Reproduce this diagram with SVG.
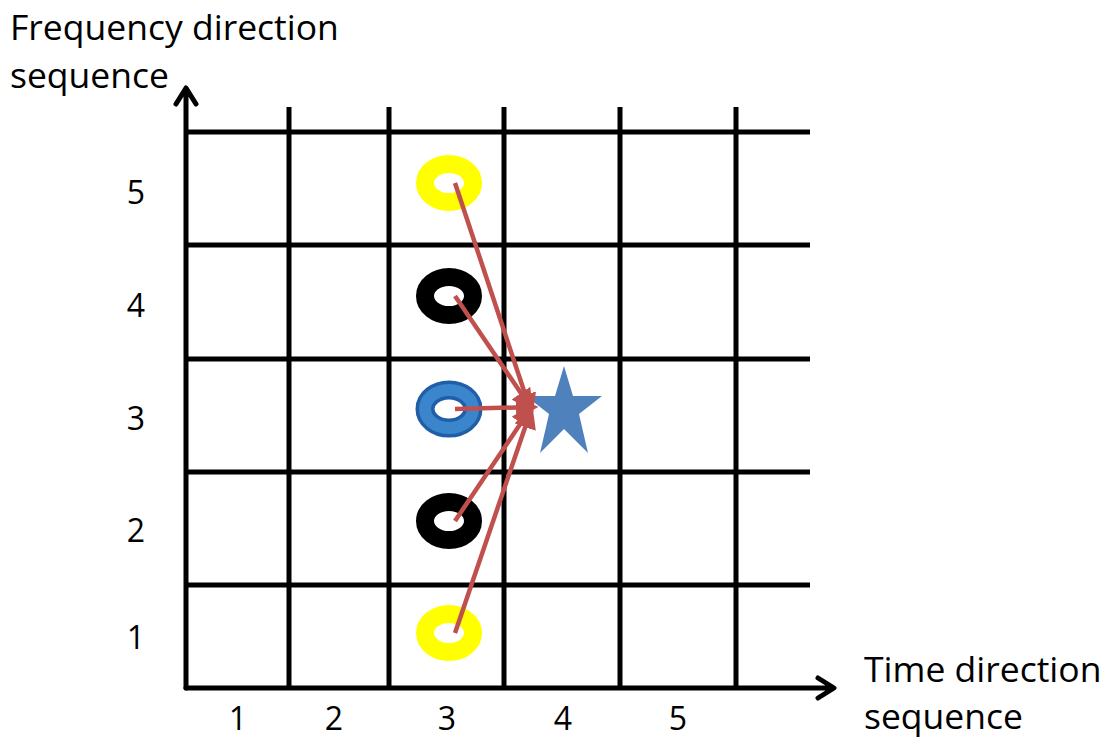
<svg xmlns="http://www.w3.org/2000/svg" width="1119" height="742" viewBox="0 0 1119 742">
<style>
.grid{stroke:#000;stroke-width:5;fill:none}
.axis{stroke:#000;stroke-width:5;fill:none;stroke-linecap:round;stroke-linejoin:round}
.lbl{font-family:"Open Sans","Liberation Sans",sans-serif;font-size:35.5px;fill:#000}
.num{font-family:"Open Sans","Liberation Sans",sans-serif;font-size:32px;fill:#000;text-anchor:middle}
.arr{stroke:#C0504D;stroke-width:4.5;fill:none;marker-end:url(#ah)}
</style>
<defs>
<marker id="ah" viewBox="0 0 10 10" refX="8" refY="5" markerWidth="5" markerHeight="5" orient="auto" markerUnits="strokeWidth">
<path d="M0,0 L10,5 L0,10 z" fill="#C0504D"/>
</marker>
</defs>
<rect width="1119" height="742" fill="#fff"/>
<g id="grid">
<line class="grid" x1="186" y1="132" x2="810" y2="132"/>
<line class="grid" x1="186" y1="245" x2="810" y2="245"/>
<line class="grid" x1="186" y1="359" x2="810" y2="359"/>
<line class="grid" x1="186" y1="472" x2="810" y2="472"/>
<line class="grid" x1="186" y1="585" x2="810" y2="585"/>
<line class="grid" x1="289" y1="107" x2="289" y2="688"/>
<line class="grid" x1="389" y1="107" x2="389" y2="688"/>
<line class="grid" x1="504" y1="107" x2="504" y2="688"/>
<line class="grid" x1="620" y1="107" x2="620" y2="688"/>
<line class="grid" x1="736" y1="107" x2="736" y2="688"/>
</g>
<g id="axes">
<path class="axis" d="M186,688 L186,90 M176,104 L186,88 L196,104"/>
<path class="axis" d="M186,688 L832,688 M818,678 L834,688 L818,698"/>
</g>
<g id="labels">
<text class="lbl" x="10" y="40">Frequency direction</text>
<text class="lbl" x="10" y="88">sequence</text>
<text class="lbl" x="864" y="682">Time direction</text>
<text class="lbl" x="864" y="729">sequence</text>
<text class="num" x="136" y="204">5</text>
<text class="num" x="136" y="317">4</text>
<text class="num" x="136" y="430">3</text>
<text class="num" x="136" y="542">2</text>
<text class="num" x="136" y="649">1</text>
<text class="num" x="238" y="730">1</text>
<text class="num" x="334" y="730">2</text>
<text class="num" x="447" y="730">3</text>
<text class="num" x="563" y="730">4</text>
<text class="num" x="678" y="730">5</text>
</g>
<g id="ring-5"><ellipse cx="449" cy="183" rx="24" ry="19" fill="none" stroke="#FFFF00" stroke-width="18"/></g>
<g id="ring-4"><ellipse cx="449" cy="296" rx="24" ry="19" fill="none" stroke="#000" stroke-width="18"/></g>
<g id="ring-3"><ellipse cx="449" cy="409" rx="24" ry="19" fill="none" stroke="#1F5FA8" stroke-width="19"/><ellipse cx="449" cy="409" rx="24" ry="19" fill="none" stroke="#3A85CC" stroke-width="12"/></g>
<g id="ring-2"><ellipse cx="449" cy="521" rx="24" ry="19" fill="none" stroke="#000" stroke-width="18"/></g>
<g id="ring-1"><ellipse cx="449" cy="633" rx="24" ry="19" fill="none" stroke="#FFFF00" stroke-width="18"/></g>
<g id="star"><polygon fill="#4F81BD" points="564,366 573,396 602,396 579,414 588,453 564,429 540,453 549,414 526,396 555,396"/></g>
<g id="connectors">
<line class="arr" x1="455" y1="183" x2="531" y2="412"/>
<line class="arr" x1="455" y1="296" x2="531" y2="408"/>
<line class="arr" x1="455" y1="409" x2="534" y2="407"/>
<line class="arr" x1="455" y1="521" x2="531" y2="408"/>
<line class="arr" x1="455" y1="633" x2="531" y2="410"/>
</g>
</svg>
